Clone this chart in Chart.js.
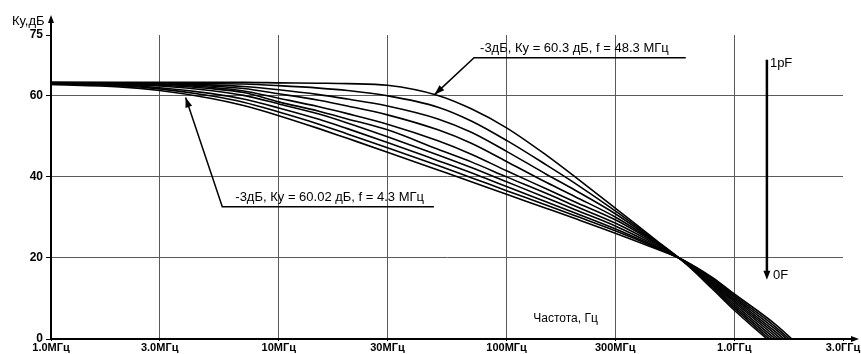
<!DOCTYPE html>
<html>
<head>
<meta charset="utf-8">
<script src="https://cdn.jsdelivr.net/npm/chart.js@4/dist/chart.umd.min.js"></script>
<style>
  html, body { margin: 0; padding: 0; background: #fff; }
  #wrap { width: 861px; height: 354px; }
</style>
</head>
<body>
<div id="wrap"><canvas id="chart" width="861" height="354"></canvas></div>
<script>
// frequency points, MHz
const freqMHz = [1, 2, 3, 5, 7, 10, 15, 20, 30, 50, 70, 100, 150, 200, 300, 450, 600, 800, 1000, 1500, 2000];

// Ку, дБ — one array per curve, top (widest band) to bottom
const ku1  = [63.3, 63.3, 63.3, 63.3, 63.3, 63.2, 63.1, 63.0, 62.6, 60.1, 56.8, 52.1, 45.3, 40.0, 32.3, 24.5, 19.0, 12.4, 7.1, -1.5, -7.0];
const ku2  = [63.3, 63.2, 63.2, 63.0, 62.9, 62.5, 61.9, 61.3, 60.0, 57.2, 53.8, 49.0, 42.9, 38.4, 31.6, 24.3, 19.0, 12.8, 7.6, -1.0, -6.5];
const ku3  = [63.2, 63.1, 63.0, 62.7, 62.3, 61.5, 60.3, 59.2, 57.5, 54.3, 51.0, 46.3, 40.6, 36.7, 30.9, 24.1, 19.1, 13.2, 8.1, -0.4, -6.0];
const ku4  = [63.2, 63.1, 62.9, 62.4, 61.8, 60.5, 58.9, 57.5, 55.3, 51.6, 48.3, 43.8, 38.6, 35.1, 30.1, 23.9, 19.1, 13.5, 8.6, 0.2, -5.5];
const ku5  = [63.2, 63.0, 62.8, 62.1, 61.2, 59.4, 57.3, 55.6, 53.0, 48.9, 45.6, 41.5, 37.0, 33.8, 29.4, 23.7, 19.2, 13.8, 9.1, 0.8, -5.0];
const ku6  = [63.1, 62.9, 62.6, 61.8, 60.8, 58.5, 56.2, 54.3, 51.6, 46.8, 43.7, 40.0, 35.9, 32.8, 28.6, 23.4, 19.2, 14.1, 9.5, 1.4, -4.5];
const ku7  = [63.1, 62.8, 62.4, 61.3, 60.1, 58.0, 55.5, 53.3, 49.9, 45.4, 42.3, 38.8, 34.8, 31.9, 27.9, 23.1, 19.3, 14.4, 9.9, 2.0, -4.0];
const ku8  = [63.0, 62.6, 62.0, 60.6, 59.2, 57.0, 54.2, 51.9, 48.5, 44.0, 41.0, 37.6, 33.8, 31.1, 27.2, 22.8, 19.3, 14.7, 10.3, 2.6, -3.5];
const ku9  = [62.9, 62.5, 61.7, 60.0, 58.4, 56.0, 53.0, 50.6, 47.2, 42.8, 39.8, 36.6, 33.0, 30.4, 26.7, 22.6, 19.4, 15.0, 10.7, 3.2, -3.0];
const ku10 = [62.8, 62.2, 61.3, 59.4, 57.6, 55.1, 51.9, 49.5, 46.1, 41.7, 38.8, 35.7, 32.2, 29.7, 26.1, 22.3, 19.4, 15.2, 11.1, 3.8, -2.5];

const xTicks = [1e6, 3e6, 1e7, 3e7, 1e8, 3e8, 1e9, 3e9];
const xTickLabels = ['1.0МГц', '3.0МГц', '10МГц', '30МГц', '100МГц', '300МГц', '1.0ГГц', '3.0ГГц'];
const yTicks = [0, 20, 40, 60, 75];

// annotations anchored in data units (Hz, dB)
const note1 = { tip: [48.3e6, 60.3], knee: [72e6, 69.4], end: [612e6, 69.4], dx: 6, text: '-3дБ, Ку = 60.3 дБ, f = 48.3 МГц' };
const note2 = { tip: [3.9e6, 59.6], knee: [5.65e6, 32.6], end: [48e6, 32.6], dx: 13, text: '-3дБ, Ку = 60.02 дБ, f = 4.3 МГц' };
const capArrow = { f: 1.39e9, from: 68.9, to: 14.6, top: '1pF', bottom: '0F' };
const xTitle = { f: 131e6, db: 4.9, text: 'Частота, Гц' };

const FONT = '"Liberation Sans", Arial, sans-serif';
const curves = [ku1, ku2, ku3, ku4, ku5, ku6, ku7, ku8, ku9, ku10];

function arrowHead(ctx, x0, y0, x1, y1, len, half) {
  const a = Math.atan2(y1 - y0, x1 - x0);
  ctx.beginPath();
  ctx.moveTo(x1, y1);
  ctx.lineTo(x1 - len * Math.cos(a) + half * Math.sin(a), y1 - len * Math.sin(a) - half * Math.cos(a));
  ctx.lineTo(x1 - len * Math.cos(a) - half * Math.sin(a), y1 - len * Math.sin(a) + half * Math.cos(a));
  ctx.closePath();
  ctx.fill();
}

const notesPlugin = {
  id: 'notes',
  afterDraw(chart) {
    const { ctx, chartArea: a, scales: { x, y } } = chart;
    ctx.save();
    ctx.strokeStyle = '#000';
    ctx.fillStyle = '#000';

    // axis extensions with arrows
    ctx.lineWidth = 2;
    ctx.beginPath();
    ctx.moveTo(a.left, a.top);
    ctx.lineTo(a.left, 22);
    ctx.moveTo(a.right, a.bottom);
    ctx.lineTo(852, a.bottom);
    ctx.stroke();
    arrowHead(ctx, a.left, a.top, a.left, 15, 8, 3);
    arrowHead(ctx, a.right, a.bottom, 859, a.bottom, 8, 3);

    ctx.font = '13px ' + FONT;
    ctx.textBaseline = 'middle';
    ctx.textAlign = 'left';
    ctx.fillText('Ку,дБ', 12, 21);

    // -3 dB callouts
    ctx.font = '13px ' + FONT;
    ctx.textBaseline = 'alphabetic';
    [note1, note2].forEach(n => {
      const tx = x.getPixelForValue(n.tip[0]), ty = y.getPixelForValue(n.tip[1]);
      const kx = x.getPixelForValue(n.knee[0]), ky = y.getPixelForValue(n.knee[1]);
      const ex = x.getPixelForValue(n.end[0]);
      ctx.lineWidth = 1.5;
      ctx.beginPath();
      ctx.moveTo(ex, ky);
      ctx.lineTo(kx, ky);
      ctx.lineTo(tx, ty);
      ctx.stroke();
      arrowHead(ctx, kx, ky, tx, ty, 10, 3.5);
      ctx.fillText(n.text, kx + n.dx, ky - 6);
    });

    // capacitance arrow
    const cx = x.getPixelForValue(capArrow.f);
    const y0 = y.getPixelForValue(capArrow.from), y1 = y.getPixelForValue(capArrow.to);
    ctx.lineWidth = 2.5;
    ctx.beginPath();
    ctx.moveTo(cx, y0);
    ctx.lineTo(cx, y1 - 6);
    ctx.stroke();
    arrowHead(ctx, cx, y0, cx, y1, 9, 3.5);
    ctx.font = '13px ' + FONT;
    ctx.textBaseline = 'middle';
    ctx.fillText(capArrow.top, cx + 3, y0 + 4);
    ctx.fillText(capArrow.bottom, cx + 6, y1 - 4);

    ctx.font = '12px ' + FONT;
    ctx.fillText(xTitle.text, x.getPixelForValue(xTitle.f), y.getPixelForValue(xTitle.db));
    ctx.restore();
  }
};

new Chart(document.getElementById('chart'), {
  type: 'line',
  data: {
    datasets: curves.map((c, i) => ({
      label: 'C' + (i + 1),
      data: freqMHz.map((f, j) => ({ x: f * 1e6, y: c[j] })),
      borderColor: '#000',
      borderWidth: 1.6,
      pointRadius: 0,
      cubicInterpolationMode: 'monotone',
      fill: false
    }))
  },
  options: {
    responsive: false,
    animation: false,
    layout: { padding: { top: 35, right: 18, left: 0, bottom: 0 } },
    plugins: { legend: { display: false }, tooltip: { enabled: false } },
    scales: {
      x: {
        type: 'logarithmic',
        min: 1e6,
        max: 3e9,
        afterBuildTicks: s => { s.ticks = xTicks.map(v => ({ value: v })); },
        afterFit: s => { s.height = 15; },
        ticks: {
          autoSkip: false,
          maxRotation: 0,
          padding: 0,
          color: '#000',
          font: { family: FONT, size: 11, weight: 'bold' },
          callback: (v, i) => xTickLabels[i]
        },
        grid: {
          color: c => (c.tick && (c.tick.value === 1e6 || c.tick.value === 3e9)) ? 'rgba(0,0,0,0)' : '#5a5a5a',
          tickColor: '#000',
          tickLength: 2,
          lineWidth: 1
        },
        border: { color: '#000', width: 2 }
      },
      y: {
        min: 0,
        max: 75,
        afterBuildTicks: s => { s.ticks = yTicks.map(v => ({ value: v })); },
        afterFit: s => { s.width = 51; },
        ticks: {
          padding: 3,
          color: '#000',
          font: { family: FONT, size: 12, weight: 'bold' }
        },
        grid: {
          color: c => (c.tick && (c.tick.value === 0 || c.tick.value === 75)) ? 'rgba(0,0,0,0)' : '#5a5a5a',
          tickColor: '#000',
          tickLength: 5,
          lineWidth: 1
        },
        border: { color: '#000', width: 2 }
      }
    }
  },
  plugins: [notesPlugin]
});
</script>
</body>
</html>
